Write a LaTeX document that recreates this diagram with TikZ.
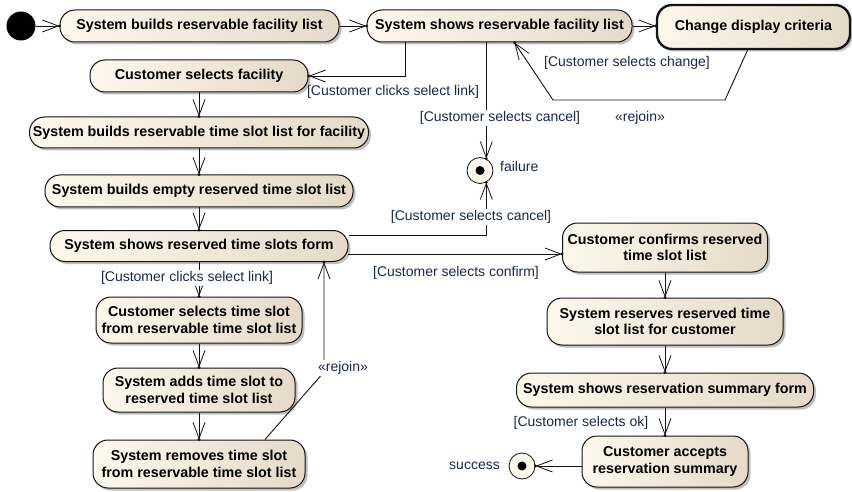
\documentclass[tikz,border=0pt]{standalone}
\usepackage{fontspec}
\setmainfont{Liberation Sans}
\usetikzlibrary{arrows.meta,shadows,calc,decorations.markings}

\definecolor{guardblue}{RGB}{28,38,86}
\definecolor{fillA}{RGB}{253,247,236}
\definecolor{fillB}{RGB}{229,218,201}
\definecolor{edge}{RGB}{20,20,20}

\newcommand\actfont{\fontsize{14.3pt}{16.5pt}\selectfont\bfseries}
\newcommand\guardfont{\fontsize{14pt}{16pt}\selectfont}

\begin{document}
\begin{tikzpicture}[x=1pt,y=-1pt,
  act/.style={draw=edge, line width=1pt, rounded corners=15pt,
    left color=fillA, right color=fillB,
    drop shadow={shadow xshift=2.5pt, shadow yshift=-2.5pt, fill=black!45, opacity=0.55},
    font=\actfont, text=black, align=center, inner sep=0pt},
  keyact/.style={act, line width=2.4pt},
  startdot/.style={circle, fill=black, minimum size=29pt, inner sep=0pt},
  enddot/.style={circle, draw=edge, line width=0.8pt, fill=fillA, minimum size=26pt, inner sep=0pt,
    path picture={\fill[black] (path picture bounding box.center) circle (4.5pt);}},
  flow/.style={draw=edge, line width=0.9pt,
    -{Straight Barb[length=16pt,width=12pt,line width=0.8pt]},
    postaction={decorate, decoration={markings,
      mark=at position 0.9999 with {\fill[edge] circle (1.6pt);}}}},
  guard/.style={font=\guardfont, text=guardblue, inner sep=1pt},
  guardw/.style={guard, fill=white}
]
\fill[white] (0,0) rectangle (852,492);
\useasboundingbox (0,0) rectangle (852,492);

% --- top row ---
\node[startdot] (init) at (21,26) {};
\node[act, minimum width=279pt, minimum height=32pt] (n1) at (199.5,26) {System builds reservable facility list};
\node[act, minimum width=265pt, minimum height=32pt] (n2) at (499.5,26) {System shows reservable facility list};
\node[keyact, minimum width=193pt, minimum height=44pt] (n3) at (753.5,27) {Change display criteria};

% --- left column ---
\node[act, minimum width=218pt, minimum height=32pt] (n4) at (199,76) {Customer selects facility};
\node[act, minimum width=339pt, minimum height=31pt] (n5) at (199,132.5) {System builds reservable time slot list for facility};
\node[act, minimum width=308pt, minimum height=32pt] (n6) at (199,191) {System builds empty reserved time slot list};
\node[act, minimum width=298pt, minimum height=31pt] (n7) at (199,246) {System shows reserved time slots form};
\node[act, minimum width=206pt, minimum height=46pt] (n8) at (199,320) {Customer selects time slot\\from reservable time slot list};
\node[act, minimum width=192pt, minimum height=44pt] (n9) at (199,390) {System adds time slot to\\reserved time slot list};
\node[act, minimum width=212pt, minimum height=48pt] (n10) at (199,464) {System removes time slot\\from reservable time slot list};

% --- right column ---
\node[act, minimum width=205pt, minimum height=49pt] (n11) at (665,247.5) {Customer confirms reserved\\time slot list};
\node[act, minimum width=236pt, minimum height=47pt] (n12) at (665,321.5) {System reserves reserved time\\slot list for customer};
\node[act, minimum width=297pt, minimum height=34pt] (n13) at (665,390) {System shows reservation summary form};
\node[act, minimum width=166pt, minimum height=51pt] (n14) at (665,461.5) {Customer accepts\\reservation summary};

% --- final nodes ---
\node[enddot] (fail) at (480,170.5) {};
\node[guard, anchor=west] (failtxt) at (499,166) {failure};
\node[enddot] (succ) at (522,466) {};
\node[guard, anchor=east] (succtxt) at (501,466) {success};

% --- main flow ---
\draw[flow] (init.east) -- (n1.west);
\draw[flow] (n1.east) -- (n2.west);
\draw[flow] (n2.east) -- (n2.east -| n3.west);

% change display criteria loop
\coordinate (l1) at (725,100);
\coordinate (l2) at (553,100);
\draw[flow] ($(n3.south)+(-6,0)$) -- (l1) -- (l2) -- ($(n2.south)+(15,0)$);
\node[guard] (gchange) at (627,63) {[Customer selects change]};
\node[guard] (rj1) at (640,118) {«rejoin»};

% select a facility
\coordinate (k1) at (405,76);
\draw[flow] (k1 |- n2.south) -- (k1) -- (k1 -| n4.east);
\node[guard] (gsel1) at (393,92) {[Customer clicks select link]};

% cancel from facility list
\draw[flow] (n2.south -| fail.62) -- (fail.62);
\node[guardw] (gcan1) at (500,118) {[Customer selects cancel]};

\draw[flow] (n4.south) -- (n5.north);
\draw[flow] (n5.south) -- (n6.north);
\draw[flow] (n6.south) -- (n7.north);

% time slot selection
\draw[flow] (n7.south) -- (n8.north);
\node[guardw] (gsel2) at (187,278) {[Customer clicks select link]};
\draw[flow] (n8.south) -- (n9.north);
\draw[flow] (n9.south) -- (n10.north);

% rejoin back to the form
\coordinate (r1) at (324,372);
\draw[flow] ($(n10.north)+(66,0)$) -- (r1) -- (r1 |- n7.south);
\node[guardw] (rj2) at (343,368) {«rejoin»};

% cancel from the form
\draw[flow] ($(n7.east)+(0,-11)$) -| (fail.-62);
\node[guardw] (gcan2) at (471,217) {[Customer selects cancel]};

% confirm
\coordinate (c7) at (348,254);
\draw[flow] (c7) -- (c7 -| n11.west);
\node[guard] (gconf) at (456,273) {[Customer selects confirm]};

\draw[flow] (n11.south) -- (n12.north);
\draw[flow] (n12.south) -- (n13.north);
\draw[flow] (n13.south) -- (n14.north);
\node[guard] (gok) at (581,423) {[Customer selects ok]};
\draw[flow] (succ -| n14.west) -- (succ.east);
\end{tikzpicture}
\end{document}
